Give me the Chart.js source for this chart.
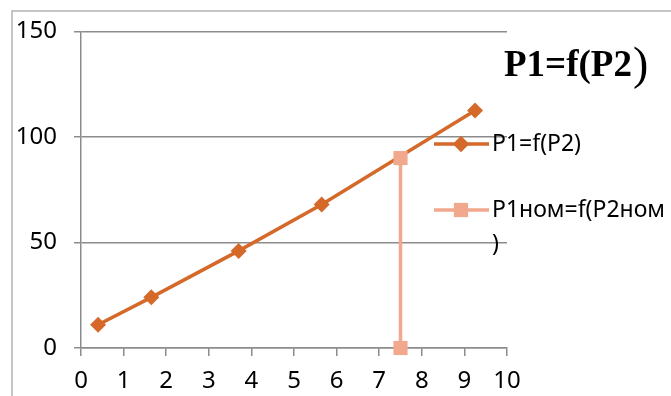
<!DOCTYPE html>
<html>
<head>
<meta charset="utf-8">
<script src="https://cdn.jsdelivr.net/npm/chart.js@4/dist/chart.umd.min.js"></script>
<style>
    html, body { margin: 0; padding: 0; background: #ffffff; }
    #wrap { width: 671px; height: 396px; position: relative; }
</style>
</head>
<body>
<div id="wrap"><canvas id="powerChart" width="671" height="396"></canvas></div>
<script>
// P2 / P1 measurements
const p2 = [0.4, 1.65, 3.7, 5.65, 9.25];
const p1 = [11, 24, 46, 68, 112.5];

// nominal operating point, dropped to the axis
const p2nom = [7.5, 7.5];
const p1nom = [90, 0];

const xTicks = [0, 1, 2, 3, 4, 5, 6, 7, 8, 9, 10];
const yTicks = [0, 50, 100, 150];

const seriesNames = ['P1=f(P2)', 'P1ном=f(P2ном', ')'];
const titleText = 'P1=f(P2';

const mainColor = '#d4692a';
const nomColor = '#f2a88c';
const gridColor = '#8c8c8c';
const tickFont = '"Noto Sans", "Open Sans", sans-serif';

function toPoints(xs, ys) {
    return xs.map((x, i) => ({ x: x, y: ys[i] }));
}

// outer frame, title and side legend
const decorPlugin = {
    id: 'decor',
    beforeDraw(chart) {
        const ctx = chart.ctx;
        ctx.save();
        ctx.fillStyle = '#ffffff';
        ctx.fillRect(0, 0, chart.width, chart.height);
        ctx.strokeStyle = '#b4b4b4';
        ctx.lineWidth = 1.5;
        ctx.beginPath();
        ctx.moveTo(12, chart.height);
        ctx.lineTo(12, 11);
        ctx.lineTo(chart.width, 11);
        ctx.stroke();
        ctx.restore();
    },
    afterDraw(chart) {
        const ctx = chart.ctx;
        ctx.save();

        // title
        ctx.fillStyle = '#000000';
        ctx.textBaseline = 'alphabetic';
        ctx.font = 'bold 37px "Liberation Serif", "DejaVu Serif", serif';
        ctx.fillText(titleText, 504, 76);
        const tw = ctx.measureText(titleText).width;
        ctx.font = '46px "Liberation Serif", "DejaVu Serif", serif';
        ctx.fillText(')', 504 + tw + 1, 79);

        // legend
        const items = [
            { y: 144, color: mainColor, style: 'rectRot', radius: 8 },
            { y: 210, color: nomColor, style: 'rect', radius: 10 }
        ];
        items.forEach(item => {
            ctx.strokeStyle = item.color;
            ctx.lineWidth = 3.5;
            ctx.beginPath();
            ctx.moveTo(434, item.y);
            ctx.lineTo(489, item.y);
            ctx.stroke();
            ctx.fillStyle = item.color;
            Chart.helpers.drawPoint(ctx, {
                pointStyle: item.style, radius: item.radius, rotation: 0, borderWidth: 0
            }, 461, item.y);
            ctx.fill();
        });
        ctx.fillStyle = '#000000';
        ctx.font = '23px ' + tickFont;
        ctx.textBaseline = 'middle';
        ctx.fillText(seriesNames[0], 492, 144);
        ctx.fillText(seriesNames[1], 492, 210);
        ctx.fillText(seriesNames[2], 492, 244);
        ctx.restore();
    }
};

new Chart(document.getElementById('powerChart'), {
    type: 'scatter',
    data: {
        datasets: [
            {
                label: seriesNames[0],
                data: toPoints(p2, p1),
                showLine: true,
                borderColor: mainColor,
                backgroundColor: mainColor,
                borderWidth: 3.5,
                pointStyle: 'rectRot',
                pointRadius: 8,
                pointBorderWidth: 0,
                order: 1,
                clip: false
            },
            {
                label: seriesNames[1] + seriesNames[2],
                data: toPoints(p2nom, p1nom),
                showLine: true,
                borderColor: nomColor,
                backgroundColor: nomColor,
                borderWidth: 3.5,
                pointStyle: 'rect',
                pointRadius: 10,
                pointBorderWidth: 0,
                order: 0,
                clip: false
            }
        ]
    },
    options: {
        responsive: false,
        animation: false,
        events: [],
        layout: { padding: { top: 27, right: 164, left: 0, bottom: 0 } },
        plugins: {
            legend: { display: false },
            tooltip: { enabled: false }
        },
        scales: {
            x: {
                type: 'linear',
                min: 0,
                max: 10,
                afterBuildTicks: scale => { scale.ticks = xTicks.map(v => ({ value: v })); },
                afterFit: scale => { scale.height = 48; },
                grid: { drawOnChartArea: false, color: gridColor, tickLength: 8, lineWidth: 1.5 },
                border: { color: gridColor, width: 1.5 },
                ticks: { color: '#000000', font: { family: tickFont, size: 24 }, padding: 11, maxRotation: 0 }
            },
            y: {
                type: 'linear',
                min: 0,
                max: 150,
                afterBuildTicks: scale => { scale.ticks = yTicks.map(v => ({ value: v })); },
                afterFit: scale => { scale.width = 81; },
                grid: { color: gridColor, tickLength: 7, lineWidth: 1.5 },
                border: { color: gridColor, width: 1.5 },
                ticks: { color: '#000000', font: { family: tickFont, size: 24 }, padding: 17 }
            }
        }
    },
    plugins: [decorPlugin]
});
</script>
</body>
</html>
